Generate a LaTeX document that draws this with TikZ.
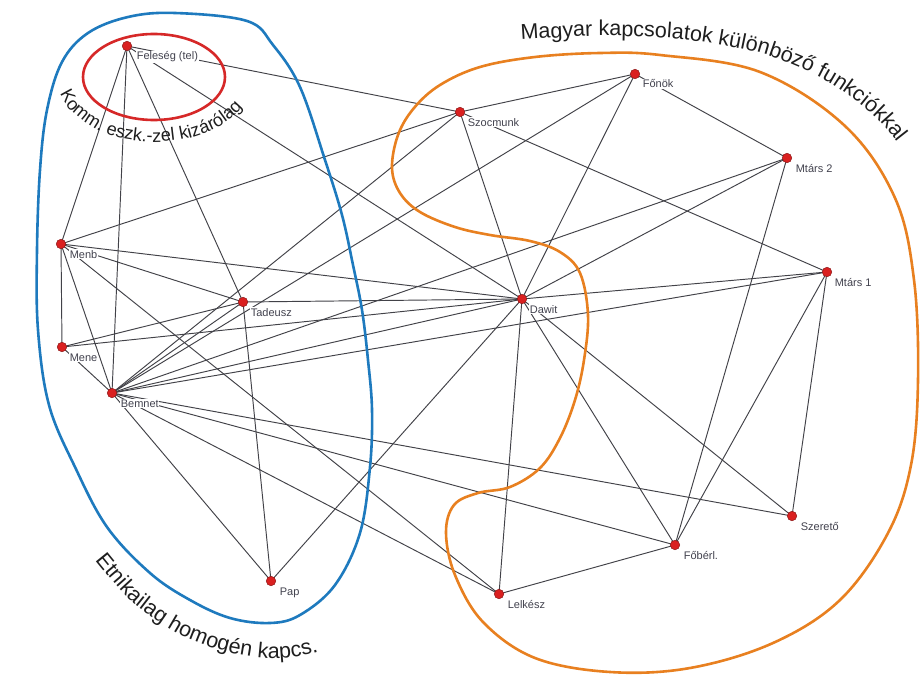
\documentclass[tikz,border=0pt]{standalone}
\usepackage{fontspec}
\setmainfont{Liberation Sans}
\usetikzlibrary{decorations.text}

\definecolor{edgegray}{RGB}{66,66,72}
\definecolor{dotred}{RGB}{218,32,32}
\definecolor{dotrim}{RGB}{140,22,22}
\definecolor{labelgray}{RGB}{66,66,78}
\definecolor{loopblue}{RGB}{30,122,190}
\definecolor{looporange}{RGB}{232,128,32}
\definecolor{loopred}{RGB}{214,40,40}
\definecolor{notetext}{RGB}{30,30,30}

\newcommand{\tagfont}{\fontsize{11}{13}\selectfont}
\newcommand{\notefont}{\fontsize{21.5}{25}\selectfont}
\newcommand{\notefontsmall}{\fontsize{18}{22}\selectfont}

\begin{document}
\begin{tikzpicture}[x=1pt,y=-1pt,
  actor/.style={circle, fill=dotred, draw=dotrim, line width=0.5pt,
                inner sep=0pt, minimum size=9.5pt},
  tag/.style={font=\tagfont, text=labelgray, fill=white, inner sep=0.6pt,
              anchor=base west},
  tie/.style={draw=edgegray, line width=0.95pt},
  group/.style={line width=2.6pt},
]
\useasboundingbox[fill=white] (0,0) rectangle (920,674);

% actor positions
\coordinate (feleseg)  at (127,46);
\coordinate (szocmunk) at (460,112);
\coordinate (fonok)    at (635,74);
\coordinate (mtars2)   at (787,158);
\coordinate (menb)     at (61,244);
\coordinate (tadeusz)  at (243,302);
\coordinate (dawit)    at (522,299);
\coordinate (mtars1)   at (827,272);
\coordinate (mene)     at (62,347);
\coordinate (bemnet)   at (112,393);
\coordinate (szereto)  at (792,516);
\coordinate (foberl)   at (675,545);
\coordinate (pap)      at (271,581);
\coordinate (lelkesz)  at (499,594);

% ties
\foreach \a/\b in {
  feleseg/menb, feleseg/bemnet, feleseg/tadeusz, feleseg/dawit, feleseg/szocmunk,
  szocmunk/fonok, szocmunk/menb, szocmunk/bemnet, szocmunk/dawit, szocmunk/mtars1,
  fonok/mtars2, fonok/dawit, fonok/bemnet,
  mtars2/bemnet, mtars2/dawit, mtars2/foberl,
  mtars1/dawit, mtars1/bemnet, mtars1/szereto, mtars1/foberl,
  menb/mene, menb/bemnet, menb/tadeusz, menb/dawit, menb/lelkesz,
  mene/bemnet, mene/tadeusz, mene/dawit,
  bemnet/tadeusz, bemnet/dawit, bemnet/szereto, bemnet/foberl, bemnet/lelkesz, bemnet/pap,
  tadeusz/dawit, tadeusz/pap,
  dawit/pap, dawit/lelkesz, dawit/foberl, dawit/szereto,
  lelkesz/foberl}
  \draw[tie] (\a) -- (\b);

% labels
\node[tag] (feleseg-t)  at ([shift={(9,14)}]feleseg)  {Feleség (tel)};
\node[tag] (szocmunk-t) at ([shift={(7,14)}]szocmunk) {Szocmunk};
\node[tag] (fonok-t)    at ([shift={(7,14)}]fonok)    {Főnök};
\node[tag] (mtars2-t)   at ([shift={(8,14)}]mtars2)   {Mtárs 2};
\node[tag] (menb-t)     at ([shift={(8,14)}]menb)     {Menb};
\node[tag] (tadeusz-t)  at ([shift={(7,14)}]tadeusz)  {Tadeusz};
\node[tag] (dawit-t)    at ([shift={(7,14)}]dawit)    {Dawit};
\node[tag] (mtars1-t)   at ([shift={(7,14)}]mtars1)   {Mtárs 1};
\node[tag] (mene-t)     at ([shift={(7,14)}]mene)     {Mene};
\node[tag] (bemnet-t)   at ([shift={(8,14)}]bemnet)   {Bemnet};
\node[tag] (szereto-t)  at ([shift={(8,14)}]szereto)  {Szerető};
\node[tag] (foberl-t)   at ([shift={(8,14)}]foberl)   {Főbérl.};
\node[tag] (pap-t)      at ([shift={(8,14)}]pap)      {Pap};
\node[tag] (lelkesz-t)  at ([shift={(8,14)}]lelkesz)  {Lelkész};

% group outlines
\draw[group, draw=loopred] (154,77) ellipse [x radius=71, y radius=43];

\draw[group, draw=loopblue] plot[smooth cycle, tension=0.6] coordinates {
  (175,13) (247,21) (273,45) (300,87) (325,160) (342,215) (353,265) (362,310)
  (368,360) (372,410) (370,467) (360,533) (335,585) (300,615) (270,623)
  (230,618) (190,600) (150,573) (107,527) (75,467) (49,405) (38,330) (37,250)
  (40,170) (47,110) (62,62) (88,33) (128,17)};

\draw[group, draw=looporange] plot[smooth cycle, tension=0.6] coordinates {
  (392,168) (398,135) (414,108) (440,85) (480,67) (535,57) (600,53) (660,55)
  (760,72) (845,126) (895,198) (914,280) (918,380) (911,465) (888,533)
  (840,600) (773,643) (690,668) (610,672) (535,658) (483,622) (455,575)
  (446,533) (454,505) (478,493) (510,487) (540,468) (560,438) (575,400)
  (584,360) (588,315) (580,273) (560,252) (530,241) (490,235) (455,227)
  (420,212) (400,193)};

% actors
\foreach \n in {feleseg,szocmunk,fonok,mtars2,menb,tadeusz,dawit,mtars1,
                mene,bemnet,szereto,foberl,pap,lelkesz}
  \node[actor] (\n-dot) at (\n) {};

% captions set along curves
\path[decorate, decoration={text along path, text align=left,
  text={|\notefont\color{notetext}|Magyar kapcsolatok különböző funkciókkal}}]
  plot[smooth] coordinates {(521,40) (600,36) (680,39) (760,53) (825,80)
  (875,117) (910,160) (930,200)};

\path[decorate, decoration={text along path, text align=left,
  text={|\notefontsmall\color{notetext}|Komm. eszk.-zel kizárólag}}]
  plot[smooth] coordinates {(59.9,93.5) (70.1,110) (92,127) (121.5,138.2)
  (155,142) (188.5,138.2) (218,127) (239.9,110) (251.5,89.1) (251.5,66.9)};

\path[decorate, decoration={text along path, text align=left,
  text={|\notefont\color{notetext}|Etnikailag homogén kapcs.}}]
  plot[smooth] coordinates {(95,560) (130,600) (175,632) (220,650)
  (265,658) (300,656) (340,645) (380,625)};
\end{tikzpicture}
\end{document}
